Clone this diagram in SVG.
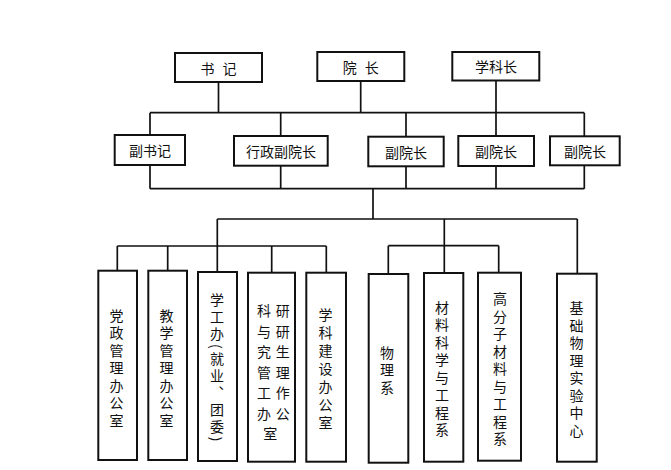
<svg xmlns="http://www.w3.org/2000/svg" width="671" height="470" viewBox="0 0 671 470">
<style>
.box{fill:#fff;stroke:#111;stroke-width:2}
.ln{fill:none;stroke:#111;stroke-width:1.7}
.t{font-family:"Noto Sans CJK SC","Noto Sans",sans-serif;font-size:14px;fill:#111}
.h{text-anchor:middle;dominant-baseline:central}
.v{writing-mode:vertical-rl;text-anchor:start;letter-spacing:3.5px}
</style>
<rect width="671" height="470" fill="#fff"/>
<g id="connectors" class="ln">
<path d="M218.5 82V112.7M360.7 81V112.7M496 80.5V112.7M150 112.7H584.3"/>
<path d="M150 112.7V135M280.7 112.7V136M406 112.7V136.7M496 112.7V136M584.3 112.7V136.3"/>
<path d="M150 165V188.7M280.7 165.7V188.7M406 166.3V188.7M496 166V188.7M584.3 165.3V188.7M150 188.7H584.3"/>
<path d="M373 188.7V219M217.3 219H577.3M217.3 219V272"/>
<path d="M117.3 246H326.3M117.3 246V270.7M167.7 246V270.7M271.7 246V272.7M326.3 246V272.7"/>
<path d="M444.3 219V273M388.3 245.7H498.7M388.3 245.7V274M498.7 245.7V272.7M577.3 219V273.7"/>
</g>
<g id="n-shuji"><rect class="box" x="175" y="53" width="87" height="29"/><text class="t h" x="218.5" y="67.5" style="word-spacing:5px">书 记</text></g>
<g id="n-yuanzhang"><rect class="box" x="317.3" y="52" width="87" height="29"/><text class="t h" x="360.7" y="66.5" style="word-spacing:5px">院 长</text></g>
<g id="n-xuekezhang"><rect class="box" x="452.3" y="52" width="87" height="28.5"/><text class="t h" x="496" y="66.3">学科长</text></g>
<g id="n-fushuji"><rect class="box" x="114.7" y="135" width="70.3" height="30"/><text class="t h" x="150" y="150">副书记</text></g>
<g id="n-xingzheng"><rect class="box" x="234" y="136" width="93.7" height="29.7"/><text class="t h" x="281" y="151">行政副院长</text></g>
<g id="n-fuyuan1"><rect class="box" x="368.3" y="136.7" width="75.4" height="29.6"/><text class="t h" x="406" y="151.5">副院长</text></g>
<g id="n-fuyuan2"><rect class="box" x="458.3" y="136" width="75.7" height="30"/><text class="t h" x="496" y="151">副院长</text></g>
<g id="n-fuyuan3"><rect class="box" x="550" y="136.3" width="69.7" height="29"/><text class="t h" x="585" y="151">副院长</text></g>
<g id="n-dangzheng"><rect class="box" x="98.3" y="270.7" width="38.7" height="189.3"/><text class="t v" x="116.5" y="308.5">党政管理办公室</text></g>
<g id="n-jiaoxue"><rect class="box" x="148.3" y="270.7" width="38.7" height="189.3"/><text class="t v" x="166.5" y="308.5">教学管理办公室</text></g>
<g id="n-xuegong"><rect class="box" x="198" y="272" width="39" height="189"/><text class="t v" x="217" y="293" style="letter-spacing:3px">学工办(就业、团委)</text></g>
<g id="n-keyan"><rect class="box" x="248" y="272.7" width="47" height="189"/>
<text class="t h" style="letter-spacing:4.7px"><tspan x="275.7" y="310">科研</tspan><tspan x="275.7" y="330.5">与研</tspan><tspan x="275.7" y="351">究生</tspan><tspan x="275.7" y="371.5">管理</tspan><tspan x="275.7" y="392">工作</tspan><tspan x="275.7" y="412.5">办公</tspan><tspan x="272.7" y="433">室</tspan></text></g>
<g id="n-xuekejianshe"><rect class="box" x="306.3" y="272.7" width="39.7" height="189"/><text class="t v" x="325.5" y="308" style="letter-spacing:3.9px">学科建设办公室</text></g>
<g id="n-wuli"><rect class="box" x="368.7" y="274" width="39.6" height="188.7"/><text class="t v" x="387" y="345.5">物理系</text></g>
<g id="n-cailiao"><rect class="box" x="424" y="273" width="39.3" height="188.7"/><text class="t v" x="442" y="300.5">材料科学与工程系</text></g>
<g id="n-gaofenzi"><rect class="box" x="478" y="272.7" width="43" height="188"/><text class="t v" x="500" y="292">高分子材料与工程系</text></g>
<g id="n-jichu"><rect class="box" x="557" y="273.7" width="39.7" height="188"/><text class="t v" x="576.5" y="301">基础物理实验中心</text></g>
</svg>
